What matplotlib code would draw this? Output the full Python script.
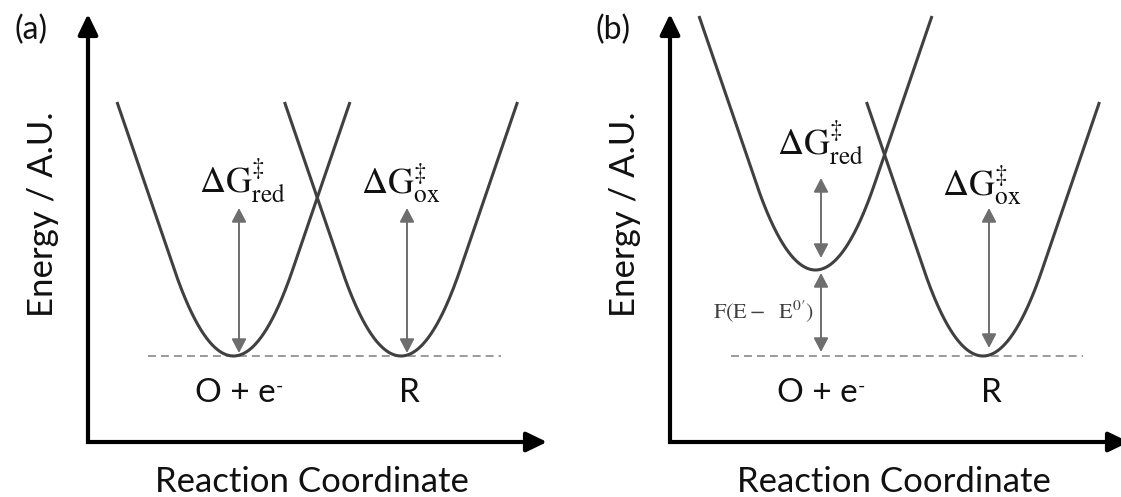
import numpy as np
import matplotlib
matplotlib.use("Agg")
import matplotlib.pyplot as plt

# ---------------- data (schematic units) ----------------
panel_letters = ["(a)", "(b)"]
state_labels = ["O + e", "R"]
state_superscripts = ["-", ""]
well_centers = [1.455, 3.13]          # reaction coordinate of the two wells
well_minima_a = [0.86, 0.86]          # energy minima, panel (a)
well_minima_b = [1.72, 0.86]          # energy minima, panel (b)
well_rise = 2.54                      # height of drawn branches above minimum
arrow_x = [1.51, 3.19]
# double arrows: (x index, bottom, top)
arrows_a = [(0, 0.89, 2.34), (1, 0.89, 2.34)]
arrows_b = [(0, 1.84, 2.64), (0, 0.90, 1.69), (1, 0.94, 2.34)]
barrier_labels = [r"$\Delta\mathrm{G}^{\ddag}_{\mathrm{red}}$",
                  r"$\Delta\mathrm{G}^{\ddag}_{\mathrm{ox}}$"]
label_pos_a = [(1.545, 2.49), (3.13, 2.49)]
label_pos_b = [(1.50, 2.87), (3.12, 2.47)]
driving_force_label = r"$\mathrm{F(E-\ \ E^{0\prime})}$"
x_label = "Reaction Coordinate"
y_label = "Energy / A.U."

# shape of the wells: parabolic bottom joined to straight flanks
K_CURV = 2.466
X_JOIN = 0.593

def well(center, emin):
    hw = X_JOIN + (well_rise - K_CURV * X_JOIN**2) / (2 * K_CURV * X_JOIN)
    x = np.linspace(center - hw, center + hw, 600)
    d = np.abs(x - center)
    e = np.where(d < X_JOIN, K_CURV * d**2,
                 K_CURV * X_JOIN**2 + 2 * K_CURV * X_JOIN * (d - X_JOIN))
    return x, e + emin

plt.rcParams['font.family'] = ['Lato', 'DejaVu Sans']

W, H = 1121, 497
fig = plt.figure(figsize=(W / 100, H / 100), dpi=100)

XMAX, YMAX = 4.59, 4.28
CURVE_C = '#404040'
ARROW_C = '#6e6e6e'
DASH_C = '#7f7f7f'
TEXT_C = '#111111'

def make_panel(x0_px, minima, arrows, label_pos, letter, dash_range, extra):
    ax = fig.add_axes([x0_px / W, (H - 442) / H, (XMAX * 100) / W, (YMAX * 100) / H])
    ax.set_xlim(0, XMAX)
    ax.set_ylim(0, YMAX)
    ax.axis('off')
    # axes L with arrowheads
    ax.plot([0, 0, XMAX - 0.12], [YMAX - 0.12, 0, 0], color='k', lw=3.0,
            solid_joinstyle='miter', solid_capstyle='butt', clip_on=False)
    for (xa, ya), (xb, yb) in [((XMAX - 0.2, 0), (XMAX, 0)), ((0, YMAX - 0.2), (0, YMAX))]:
        ax.annotate('', xy=(xb, yb), xytext=(xa, ya),
                    arrowprops=dict(arrowstyle='-|>,head_length=0.62,head_width=0.3',
                                    mutation_scale=20, color='k', lw=3.0,
                                    shrinkA=0, shrinkB=0), annotation_clip=False)
    # dashed reference level
    ax.plot(dash_range, [well_minima_a[1], well_minima_a[1]], color=DASH_C, lw=1.1,
            dashes=(5.2, 3.3))
    # wells
    for c, m in zip(well_centers, minima):
        x, e = well(c, m)
        ax.plot(x, e, color=CURVE_C, lw=2.2, clip_on=False, solid_capstyle='butt')
    # double arrows
    for idx, lo, hi in arrows:
        ax.annotate('', xy=(arrow_x[idx], hi), xytext=(arrow_x[idx], lo),
                    arrowprops=dict(arrowstyle='<|-|>,head_length=0.42,head_width=0.22',
                                    mutation_scale=20, color=ARROW_C, lw=1.4,
                                    shrinkA=0, shrinkB=0))
    # barrier labels
    for txt, (lx, ly) in zip(barrier_labels, label_pos):
        ax.text(lx, ly, txt, ha='center', va='baseline', fontsize=26,
                color=TEXT_C, math_fontfamily='stix')
    # state labels
    for txt, sup, c in zip(state_labels, state_superscripts, arrow_x):
        t = ax.text(c - (0.04 if sup else -0.02), 0.495, txt, ha='center', va='center',
                    fontsize=24, color=TEXT_C)
        if sup:
            ax.annotate(sup, xy=(1.0, 0.98), xycoords=t, ha='left', va='top',
                        fontsize=14, color=TEXT_C)
    ax.text(2.24, -0.40, x_label, ha='center', va='center', fontsize=25,
            color=TEXT_C, clip_on=False)
    ax.text(-0.45, 2.28, y_label, ha='center', va='center', rotation=90,
            fontsize=25, color=TEXT_C, clip_on=False)
    ax.text(-0.57, 4.12, letter, ha='center', va='center', fontsize=23,
            color=TEXT_C, clip_on=False)
    if extra:
        ax.text(1.44, 1.31, driving_force_label, ha='right', va='center',
                fontsize=16, color='#404040', math_fontfamily='stix')
    return ax

make_panel(88, well_minima_a, arrows_a, label_pos_a, panel_letters[0], [0.60, 4.13], False)
make_panel(670, well_minima_b, arrows_b, label_pos_b, panel_letters[1], [0.61, 4.13], True)

fig.savefig('out.png', dpi=100)
